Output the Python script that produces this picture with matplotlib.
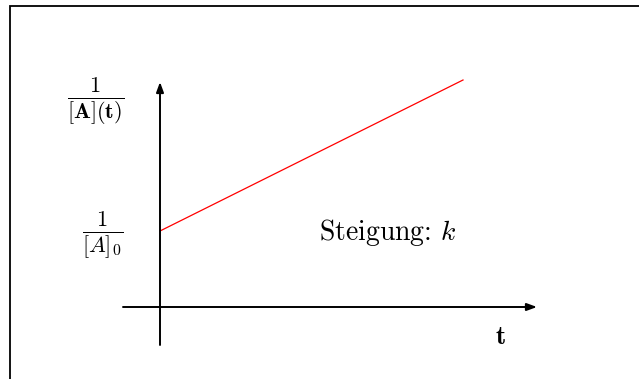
import matplotlib
matplotlib.use("Agg")
import matplotlib.pyplot as plt
from matplotlib.patches import Rectangle

plt.rcParams["mathtext.fontset"] = "cm"
plt.rcParams["axes.unicode_minus"] = False

# second-order kinetics: 1/[A](t) = 1/[A]_0 + k t  (schematic units)
t_vals = [0, 303]
inv_a_vals = [76, 227]

# axis extents
x_axis = [-37, 377]
y_axis = [-38, 225]

W, H = 639, 379
fig = plt.figure(figsize=(W / 100, H / 100), dpi=100)
ax = fig.add_axes([0, 0, 1, 1])
ax.set_xlim(-160, W - 160)
ax.set_ylim(-(H - 307), 307)
ax.axis("off")

# frame around the sketch
fig.patches.append(Rectangle((9.5 / W, -0.2), 1.2, 1.2 - 6 / H,
                             transform=fig.transFigure, fill=False,
                             edgecolor="black", linewidth=1.3))

arrow = dict(arrowstyle="-|>,head_length=0.6,head_width=0.22",
             color="black", lw=1.4, shrinkA=0, shrinkB=0)
ax.annotate("", xy=(x_axis[1], 0), xytext=(x_axis[0], 0), arrowprops=arrow)
ax.annotate("", xy=(0, y_axis[1]), xytext=(0, y_axis[0]), arrowprops=arrow)

ax.plot(t_vals, inv_a_vals, color="red", lw=0.9)

ax.text(-64, 206, r"$\frac{\mathbf{1}}{\mathbf{[A](t)}}$", fontsize=23,
        ha="center", va="center")
ax.text(-57, 72, r"$\frac{1}{[A]_0}$", fontsize=23, ha="center", va="center")
ax.text(228, 74, r"Steigung: $k$", fontsize=20, family="cmr10",
        ha="center", va="center")
ax.text(340, -30, r"$\mathbf{t}$", fontsize=19, ha="center", va="center")

fig.savefig("out.png", dpi=100)
